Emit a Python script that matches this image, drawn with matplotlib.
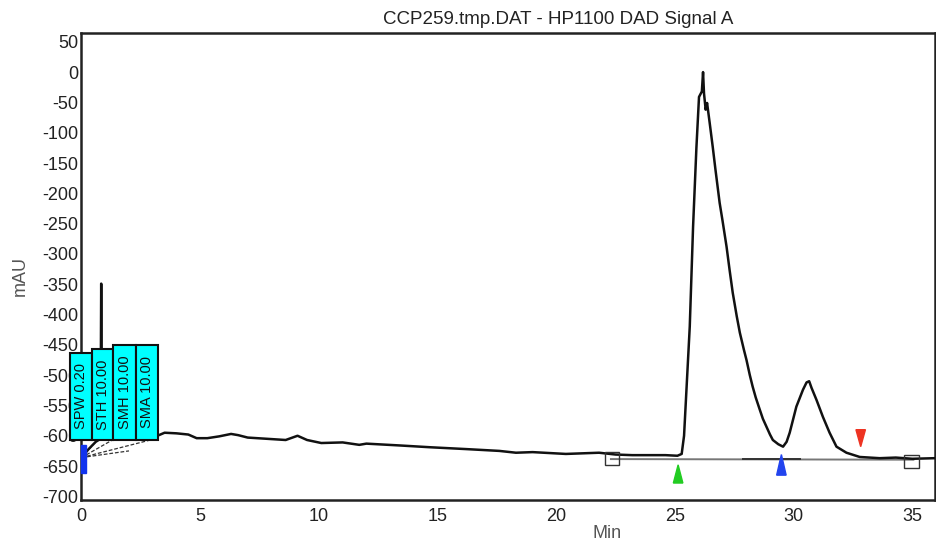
import matplotlib
matplotlib.use("Agg")
import matplotlib.pyplot as plt
from matplotlib.patches import Rectangle, Polygon
from matplotlib.ticker import FixedLocator, FixedFormatter

plt.rcParams['font.family'] = ['Liberation Sans', 'DejaVu Sans']

# ---- data ----
title = "CCP259.tmp.DAT - HP1100 DAD Signal A"
x_label = "Min"
y_label = "mAU"

time_min = [0.0, 0.3, 0.6, 0.80, 0.83, 0.86, 1.5, 2.5, 3.2, 3.5, 4.0, 4.5, 4.85, 5.3,
            5.8, 6.3, 6.6, 7.0, 7.8, 8.6, 9.1, 9.5, 10.1, 11.0, 11.7, 12.0, 13.4,
            14.7, 16.2, 17.6, 18.3, 19.0, 20.4, 21.8, 22.5, 23.2, 24.6, 25.1,
            25.28, 25.38, 25.50, 25.62, 25.76, 25.90, 26.01, 26.13, 26.18, 26.22, 26.29,
            26.35, 26.46, 26.59, 26.70, 26.88, 27.00, 27.17, 27.30, 27.43, 27.60, 27.73,
            27.90, 28.01, 28.15, 28.27, 28.40, 28.57, 28.70, 28.85, 29.00, 29.12, 29.35,
            29.55, 29.70, 29.83, 30.11, 30.39, 30.54, 30.65, 30.75, 30.96,
            31.23, 31.51, 31.80, 32.22, 32.78, 33.62, 34.3, 35.0, 35.95]
signal_mau = [-636, -622, -610, -605, -349, -605, -602, -600, -600, -595, -596, -598, -604, -604,
              -601, -597, -599, -603, -605, -607, -600, -607, -612, -611, -615, -613, -616,
              -619, -622, -625, -628, -627, -630, -628, -631, -632, -632, -633,
              -630, -600, -510, -420, -255, -125, -41, -32, 0, -35, -62,
              -51, -84, -124, -160, -216, -245, -288, -327, -364, -403, -430,
              -458, -475, -500, -519, -537, -557, -572, -585, -598, -607, -614,
              -618, -610, -595, -552, -524, -512, -510, -521, -541,
              -569, -595, -618, -628, -635, -637, -636, -638, -637]

y_tick_values = [50, 0, -50, -100, -150, -200, -250, -300, -350, -400, -450,
                 -500, -550, -600, -650, -700]
y_tick_labels = ["50", "0", "-50", "-100", "-150", "-200", "-250", "-300", "-350",
                 "-400", "-450", "-500", "-550", "-600", "-650", "-700"]
x_tick_values = [0, 5, 10, 15, 20, 25, 30, 35]

# integration parameter boxes
box_labels = ["SPW 0.20", "STH 10.00", "SMH 10.00", "SMA 10.00"]
box_left = [-0.48, 0.43, 1.34, 2.30]
box_right = [0.43, 1.34, 2.30, 3.22]
box_top = [-463, -457, -450, -450]
box_bottom = -607

# baseline construction
baseline_t = [22.3, 35.04]
baseline_v = [-638.5, -639.5]
square_t = [22.33, 34.96]
square_v = [-637, -642]
# peak event markers
start_marker_t, start_marker_v = 25.13, -648   # green, tip value
valley_marker_t, valley_marker_v = 29.48, -631  # blue, tip value
end_marker_t, end_marker_v = 32.82, -618        # red, tip value
# early dashed fit lines
fit_start = (0.0, -636)
fit_ends_t = [0.6, 1.3, 2.0, 3.1]
fit_ends_v = [-610, -607, -625, -605]

# ---- figure ----
fig = plt.figure(figsize=(9.37, 5.42), dpi=100)
ax = fig.add_axes([81.5 / 937, 42 / 542, (935 - 81.5) / 937, (500 - 32.7) / 542])
ax.set_xlim(0, 35.95)
ax.set_ylim(-706, 65)

for s in ax.spines.values():
    s.set_linewidth(1.8)
    s.set_color('#222222')

ax.yaxis.set_major_locator(FixedLocator(y_tick_values))
ax.yaxis.set_major_formatter(FixedFormatter(y_tick_labels))
ax.xaxis.set_major_locator(FixedLocator(x_tick_values))
ax.tick_params(axis='both', length=0, labelsize=13, colors='#222222')
ax.tick_params(axis='y', pad=2)
ax.tick_params(axis='x', pad=6)

# baseline construction line
ax.plot(baseline_t, baseline_v, color='#777777', lw=1.4, zorder=2)
ax.plot([27.85, 30.25], [-639, -639], color='#333333', lw=1.4, zorder=2)

# dashed fit lines
for tt, vv in zip(fit_ends_t, fit_ends_v):
    ax.plot([fit_start[0], tt], [fit_start[1], vv], color='#333333', lw=0.9,
            ls=(0, (3, 1.5)), zorder=2)

# signal
ax.plot(time_min, signal_mau, color='#111111', lw=1.8, zorder=3)

# squares
for tt, vv in zip(square_t, square_v):
    ax.add_patch(Rectangle((tt - 0.3, vv - 11), 0.6, 22, fill=False,
                           edgecolor='#333333', lw=1.0, zorder=4))

# markers (triangles)
tw = 0.2
ax.add_patch(Polygon([[start_marker_t, start_marker_v],
                      [start_marker_t - tw, start_marker_v - 30],
                      [start_marker_t + tw, start_marker_v - 30]],
                     closed=True, color='#22cc22', zorder=5))
ax.add_patch(Polygon([[valley_marker_t, valley_marker_v],
                      [valley_marker_t - tw, valley_marker_v - 34],
                      [valley_marker_t + tw, valley_marker_v - 34]],
                     closed=True, color='#2244ee', zorder=5))
ax.add_patch(Polygon([[end_marker_t, end_marker_v],
                      [end_marker_t - tw, end_marker_v + 28],
                      [end_marker_t + tw, end_marker_v + 28]],
                     closed=True, color='#ee3322', zorder=5))
# start-of-run marker
ax.add_patch(Rectangle((0, -661), 0.18, 46, color='#1133ee', zorder=5, clip_on=False))

# parameter boxes (they cover the last digit of the -500/-550/-600 labels)
for lab, l, r, t in zip(box_labels, box_left, box_right, box_top):
    ax.add_patch(Rectangle((l, box_bottom), r - l, t - box_bottom, facecolor='#00ffff',
                           edgecolor='#111111', lw=1.5, zorder=6, clip_on=False))
    ax.text((l + r) / 2, (box_bottom + t) / 2, lab, rotation=90, ha='center', va='center',
            fontsize=10.5, color='#111111', zorder=7, clip_on=False)

# texts
fig.text(558 / 937, 1 - 20 / 542, title, ha='center', va='center', fontsize=13.5, color='#222222')
fig.text(607 / 937, 1 - 533 / 542, x_label, ha='center', va='center', fontsize=13, color='#555555')
fig.text(20 / 937, 1 - 276 / 542, y_label, ha='center', va='center', rotation=90,
         fontsize=13, color='#555555')

fig.savefig("out.png", dpi=100)
